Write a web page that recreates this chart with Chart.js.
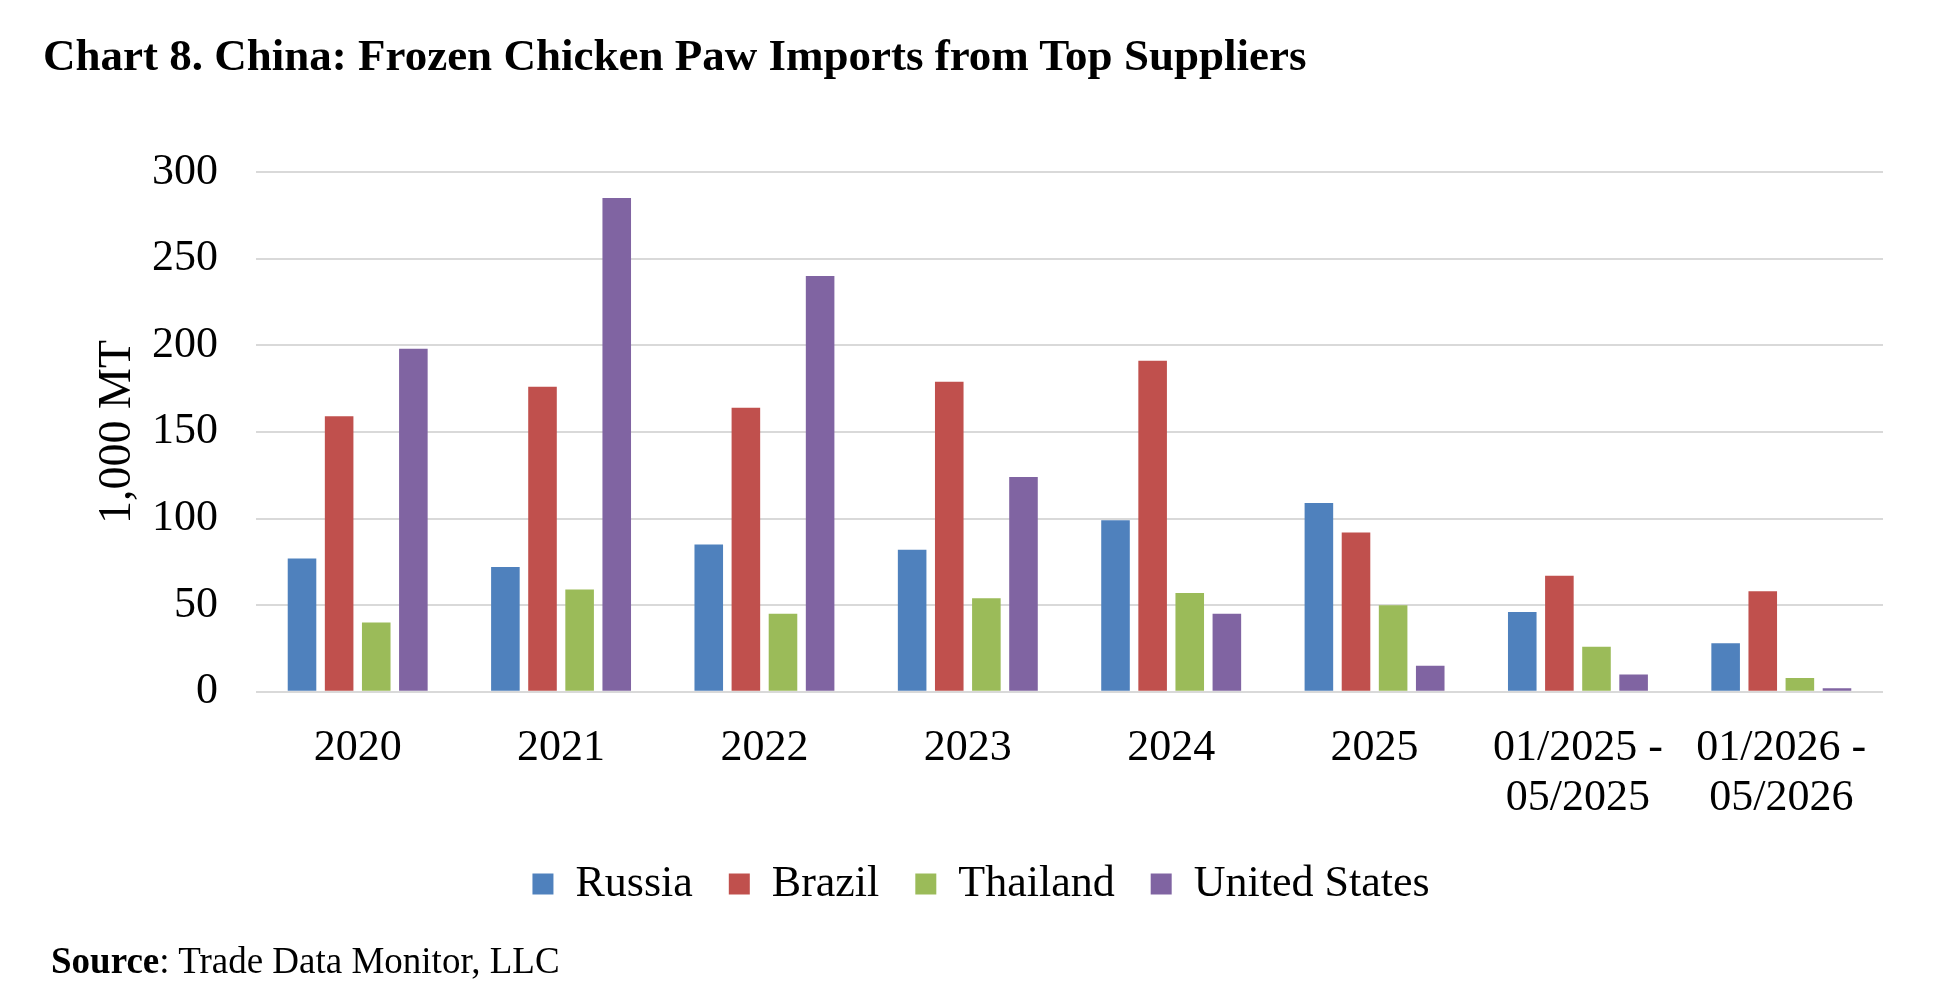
<!DOCTYPE html>
<html>
<head>
<meta charset="utf-8">
<script src="https://cdn.jsdelivr.net/npm/chart.js@4"></script>
<style>
  html, body { margin: 0; padding: 0; background: #fff; }
  body { width: 1941px; height: 989px; position: relative; overflow: hidden; font-family: "Liberation Serif", "Times New Roman", serif; }
  #title { position: absolute; left: 43px; top: 33px; font-size: 45px; line-height: 1; font-weight: bold; color: #000; white-space: nowrap; }
  #source { position: absolute; left: 51px; top: 942px; font-size: 37px; line-height: 1; color: #000; white-space: nowrap; }
  #wrap { position: absolute; left: 0; top: 0; width: 1941px; height: 989px; }
</style>
</head>
<body>
<div id="wrap"><canvas id="chart"></canvas></div>
<div id="title">Chart 8. China: Frozen Chicken Paw Imports from Top Suppliers</div>
<div id="source"><b>Source</b>: Trade Data Monitor, LLC</div>
<script>
// categories (x axis)
const periods = ['2020', '2021', '2022', '2023', '2024', '2025', ['01/2025 -', '05/2025'], ['01/2026 -', '05/2026']];

// imports, 1,000 MT
const russia   = [77, 72, 85, 82, 99, 109, 46, 28];
const brazil   = [159, 176, 164, 179, 191, 92, 67, 58];
const thailand = [40, 59, 45, 54, 57, 50, 26, 8];
const usa      = [198, 285, 240, 124, 45, 15, 10, 2];

const yTicks = [0, 50, 100, 150, 200, 250, 300];

const serif = '"Liberation Serif", "Times New Roman", serif';

function series(label, data, color) {
    return {
        label: label,
        data: data,
        backgroundColor: color,
        borderWidth: 0,
        categoryPercentage: 0.73,
        barPercentage: 0.77
    };
}

const ctx = document.getElementById('chart').getContext('2d');
const chart = new Chart(ctx, {
    type: 'bar',
    data: {
        labels: periods,
        datasets: [
            series('Russia', russia, '#4F81BD'),
            series('Brazil', brazil, '#C0504D'),
            series('Thailand', thailand, '#9BBB59'),
            series('United States', usa, '#8064A2')
        ]
    },
    options: {
        responsive: true,
        maintainAspectRatio: false,
        animation: false,
        layout: {
            padding: { top: 172, left: 79, right: 58, bottom: 73 }
        },
        scales: {
            x: {
                grid: { display: false },
                border: { display: false },
                afterFit: function(scale) {
                    scale.height = scale.height - 21;
                },
                ticks: {
                    color: '#000',
                    padding: 23,
                    maxRotation: 0,
                    autoSkip: false,
                    font: { family: serif, size: 44, lineHeight: 1.15 }
                }
            },
            y: {
                min: 0,
                max: 300,
                afterBuildTicks: function(scale) {
                    scale.ticks = yTicks.map(v => ({ value: v }));
                },
                afterFit: function(scale) {
                    scale.width = 177;
                },
                grid: { color: '#D9D9D9', lineWidth: 2, drawTicks: false },
                border: { display: false },
                ticks: {
                    color: '#000',
                    padding: 38,
                    font: { family: serif, size: 44 }
                },
                title: {
                    display: true,
                    text: '1,000 MT',
                    color: '#000',
                    padding: { top: 16, bottom: 0 },
                    font: { family: serif, size: 46, lineHeight: 1.0 }
                }
            }
        },
        plugins: {
            legend: {
                position: 'bottom',
                labels: {
                    color: '#000',
                    boxWidth: 21,
                    boxHeight: 21,
                    padding: 36,
                    font: { family: serif, size: 44 }
                }
            },
            tooltip: { enabled: false }
        }
    }
});
</script>
</body>
</html>
